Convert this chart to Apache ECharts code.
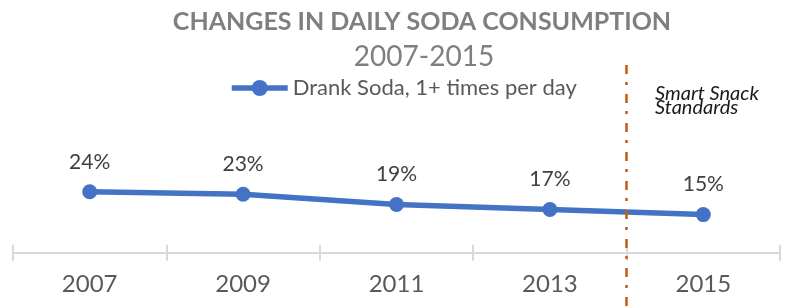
<!DOCTYPE html>
<html>
<head>
<meta charset="utf-8">
<script src="https://cdn.jsdelivr.net/npm/echarts@6/dist/echarts.min.js"></script>
<style>
  html, body { margin: 0; padding: 0; background: #fff; }
  #chart { width: 792px; height: 306px; }
</style>
</head>
<body>
<div id="chart"></div>
<script>
const years = ['2007', '2009', '2011', '2013', '2015']
const sodaDaily = [24, 23, 19, 17, 15]
const seriesName = 'Drank Soda, 1+ times per day'
// policy line sits between 2013 and 2015 (category index 3.5)
const policyAt = 3.5
const policyLabel = ['Smart Snack', 'Standards']

const font = 'Lato, Carlito, "Noto Sans", sans-serif'
const chart = echarts.init(document.getElementById('chart'))

const catAxis = {
  type: 'category',
  gridIndex: 0,
  data: years,
  position: 'bottom',
  boundaryGap: true
}
const tickStyle = { color: '#d9d9d9', width: 2 }

chart.setOption({
  animation: false,
  textStyle: { fontFamily: font },
  title: [
    {
      text: 'CHANGES IN DAILY SODA CONSUMPTION',
      left: 417,
      top: 4,
      textAlign: 'center',
      textStyle: { fontFamily: font, fontSize: 25, fontWeight: 'bold', color: '#7f7f7f' }
    },
    {
      text: '2007-2015',
      left: 419,
      top: 38,
      textAlign: 'center',
      textStyle: { fontFamily: font, fontSize: 28, fontWeight: 'normal', color: '#7f7f7f' }
    }
  ],
  legend: {
    data: [seriesName],
    left: 229,
    top: 77,
    padding: 0,
    itemWidth: 56,
    itemHeight: 20,
    lineStyle: { width: 5.5 },
    textStyle: { fontFamily: font, fontSize: 22, color: '#595959' }
  },
  grid: [
    // main plot: category axis sits at the bottom of this grid
    { left: 13, right: 12, top: 61, bottom: 53.3, containLabel: false, outerBoundsMode: 'none' },
    // full-height overlay used for the policy marker
    { left: 13, right: 12, top: 61, bottom: 0, containLabel: false, outerBoundsMode: 'none' }
  ],
  xAxis: [
    Object.assign({}, catAxis, {
      axisLine: { onZero: false, lineStyle: { color: '#d9d9d9', width: 2 } },
      axisTick: { show: true, length: 8, lineStyle: tickStyle },
      axisLabel: { margin: 20, fontFamily: font, fontSize: 24, color: '#595959' }
    }),
    Object.assign({}, catAxis, {
      axisLine: { show: false, onZero: false },
      axisTick: { show: true, inside: true, length: 8, lineStyle: tickStyle },
      axisLabel: { show: false }
    }),
    { type: 'value', gridIndex: 1, min: -0.5, max: 4.5, show: false }
  ],
  yAxis: [
    { type: 'value', gridIndex: 0, min: 0, max: 75.5, show: false, splitLine: { show: false } },
    { type: 'value', gridIndex: 1, min: 0, max: 1, show: false, splitLine: { show: false } }
  ],
  graphic: [
    {
      type: 'text',
      left: 655,
      top: 84,
      style: {
        text: policyLabel.join('\n'),
        font: 'italic 20px ' + font,
        lineHeight: 13.5,
        fill: '#1a1a1a'
      }
    }
  ],
  series: [
    {
      name: seriesName,
      type: 'line',
      xAxisIndex: 0,
      yAxisIndex: 0,
      data: sodaDaily,
      symbol: 'circle',
      symbolSize: 15,
      lineStyle: { color: '#4472c4', width: 5.5 },
      itemStyle: { color: '#4472c4' },
      label: {
        show: true,
        position: 'top',
        distance: 12,
        formatter: '{c}%',
        fontFamily: font,
        fontSize: 21,
        color: '#404040'
      }
    },
    {
      name: 'policy',
      type: 'line',
      xAxisIndex: 2,
      yAxisIndex: 1,
      data: [],
      markLine: {
        silent: true,
        symbol: 'none',
        label: { show: false },
        lineStyle: { color: '#c55a11', width: 2.5, type: [9, 9, 3, 8] },
        data: [{ xAxis: policyAt }]
      }
    }
  ]
})
</script>
</body>
</html>
